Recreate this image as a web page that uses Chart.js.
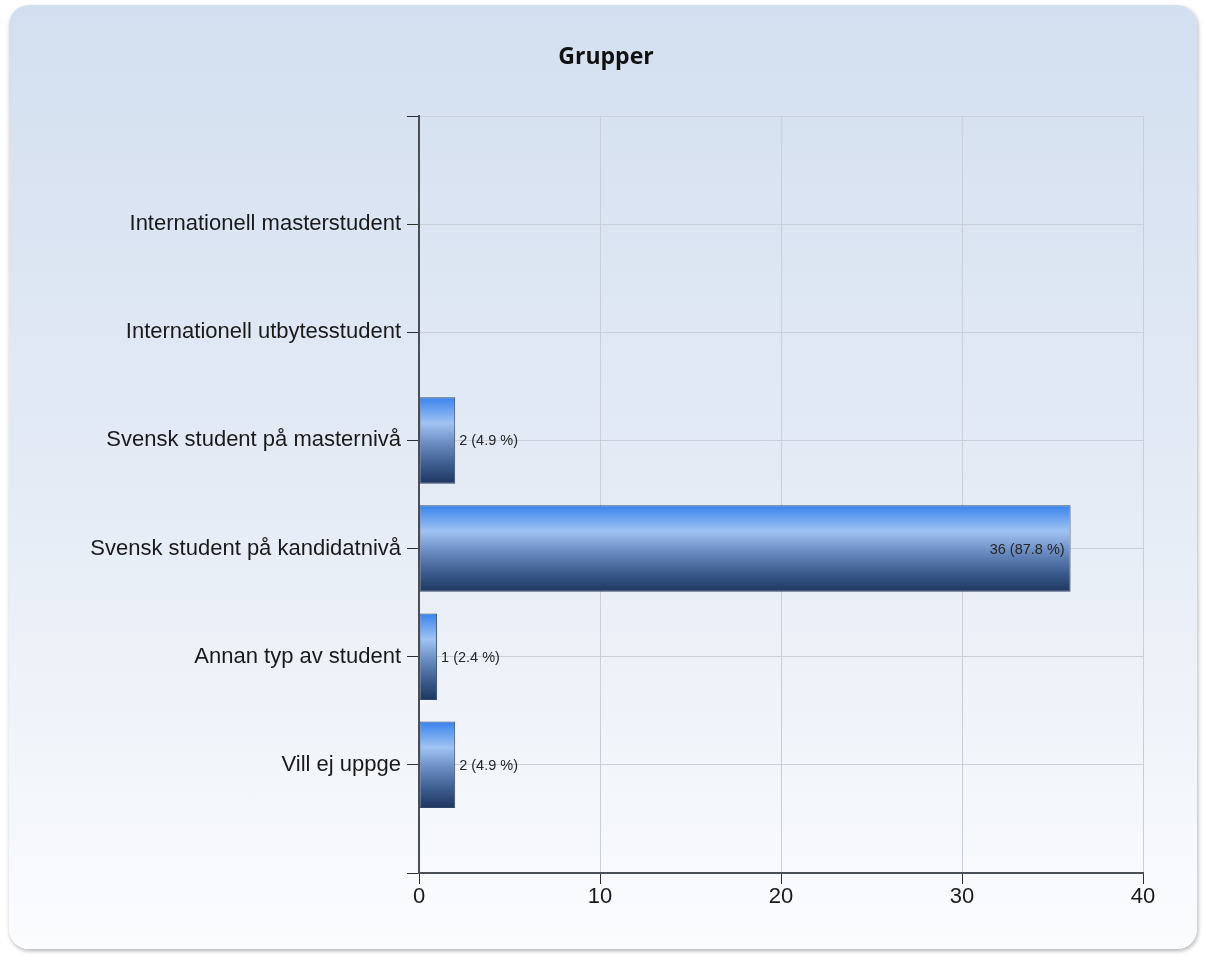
<!DOCTYPE html>
<html>
<head>
<meta charset="utf-8">
<title>Grupper</title>
<script src="https://cdn.jsdelivr.net/npm/chart.js@4.4.1/dist/chart.umd.min.js"></script>
<style>
    html, body {
        margin: 0;
        padding: 0;
        background: #ffffff;
        width: 1205px;
        height: 957px;
        overflow: hidden;
    }
    #card {
        position: absolute;
        left: 9px;
        top: 5px;
        width: 1188px;
        height: 944px;
        border-radius: 20px;
        background: linear-gradient(#d3dff0, #e4ebf5 50%, #fbfcfe);
        box-shadow: 1px 2px 4px rgba(0, 0, 0, 0.3);
    }
    #chart {
        position: absolute;
        left: 0;
        top: 0;
    }
</style>
</head>
<body>
<div id="card"></div>
<canvas id="chart" width="1205" height="957"></canvas>
<script>
const TITLE = "Grupper";

const categories = [
    "Internationell masterstudent",
    "Internationell utbytesstudent",
    "Svensk student på masternivå",
    "Svensk student på kandidatnivå",
    "Annan typ av student",
    "Vill ej uppge",
];
const counts = [0, 0, 2, 36, 1, 2];

const xTicks = [0, 10, 20, 30, 40];

const LABEL_FONT = '"Liberation Sans", Arial, sans-serif';

// empty slot above and below so the rows sit between grid lines like the original
const rowLabels = ["", ...categories, ""];
const rowValues = [null, ...counts, null];
const total = counts.reduce((a, b) => a + b, 0);

function barGradient(ctx) {
    const chart = ctx.chart;
    const yScale = chart.scales.y;
    if (ctx.type !== "data" || !yScale) return "#5a86c8";
    const center = yScale.getPixelForValue(ctx.dataIndex);
    const step = yScale.getPixelForValue(1) - yScale.getPixelForValue(0);
    if (!isFinite(center) || !isFinite(step) || step === 0) return "#5a86c8";
    const half = Math.abs(step) * 0.4;
    const g = chart.ctx.createLinearGradient(0, center - half, 0, center + half);
    g.addColorStop(0, "#3882ec");
    g.addColorStop(0.3, "#a0c3f3");
    g.addColorStop(0.52, "#6e8fc4");
    g.addColorStop(0.78, "#3c5c8e");
    g.addColorStop(1, "#1d365e");
    return g;
}

// title centred on the whole card, not on the plot box
const cardTitle = {
    id: "cardTitle",
    afterDraw(chart) {
        const c = chart.ctx;
        c.save();
        c.font = 'bold 23px "Open Sans", sans-serif';
        c.fillStyle = "#111111";
        c.textAlign = "center";
        c.textBaseline = "middle";
        c.fillText(TITLE, 606, 57);
        c.restore();
    },
};

const valueLabels = {
    id: "valueLabels",
    afterDatasetsDraw(chart) {
        const c = chart.ctx;
        const meta = chart.getDatasetMeta(0);
        c.save();
        c.font = "14.5px " + LABEL_FONT;
        c.fillStyle = "#262626";
        c.textBaseline = "middle";
        meta.data.forEach((bar, i) => {
            const v = rowValues[i];
            if (!v) return;
            const text = `${v} (${((v / total) * 100).toFixed(1)} %)`;
            const w = c.measureText(text).width;
            if (bar.x + 4 + w > chart.chartArea.right) {
                c.textAlign = "right";
                c.fillText(text, bar.x - 6, bar.y + 1);
            } else {
                c.textAlign = "left";
                c.fillText(text, bar.x + 4, bar.y + 1);
            }
        });
        c.restore();
    },
};

const chart = new Chart(document.getElementById("chart"), {
    type: "bar",
    data: {
        labels: rowLabels,
        datasets: [
            {
                data: rowValues,
                backgroundColor: barGradient,
                borderColor: "#34496a",
                borderWidth: (ctx) => (ctx.raw ? 1 : 0),
                borderSkipped: false,
                barPercentage: 0.8,
                categoryPercentage: 1,
            },
        ],
    },
    options: {
        indexAxis: "y",
        responsive: false,
        animation: false,
        layout: {
            padding: { left: 0, right: 62, top: 116, bottom: 44 },
        },
        plugins: {
            legend: { display: false },
            tooltip: { enabled: false },
            title: { display: false },
        },
        scales: {
            x: {
                min: xTicks[0],
                max: xTicks[xTicks.length - 1],
                ticks: {
                    stepSize: 10,
                    padding: 0,
                    color: "#1a1a1a",
                    font: { family: LABEL_FONT, size: 22 },
                },
                grid: {
                    color: "#c9ced8",
                    tickColor: "#2e2e2e",
                    tickLength: 11,
                },
                border: { color: "#4a4e56", width: 2 },
                afterFit(scale) {
                    scale.height = 40;
                },
            },
            y: {
                offset: false,
                ticks: {
                    padding: 6,
                    color: "#1a1a1a",
                    font: { family: LABEL_FONT, size: 22 },
                    autoSkip: false,
                },
                grid: {
                    offset: false,
                    color: "#c9ced8",
                    tickColor: "#2e2e2e",
                    tickLength: 12,
                },
                border: { color: "#4a4e56", width: 2 },
                afterFit(scale) {
                    scale.width = 419;
                },
            },
        },
    },
    plugins: [valueLabels, cardTitle],
});
</script>
</body>
</html>
